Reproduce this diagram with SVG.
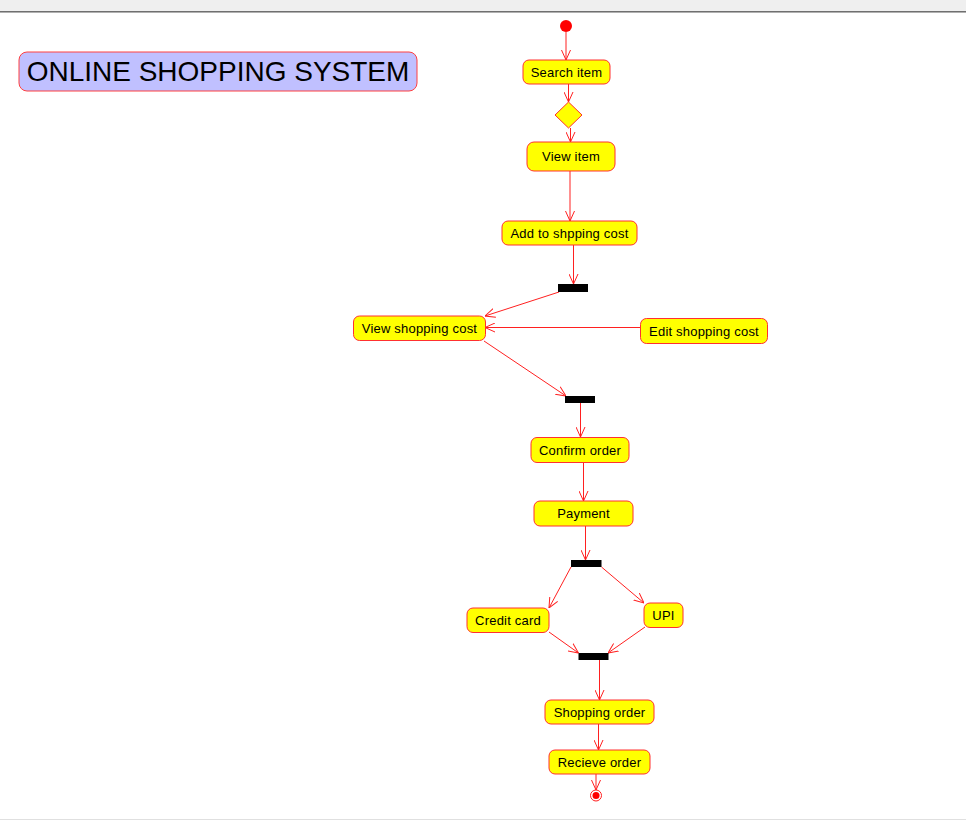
<svg xmlns="http://www.w3.org/2000/svg" width="966" height="820" viewBox="0 0 966 820">
<style>
.n rect{fill:#ffff00;stroke:#ff3030;stroke-width:1}
.n text{font-family:"Liberation Sans",Arial,sans-serif;font-size:13px;fill:#000;text-anchor:middle;letter-spacing:0.2px}
.bar{fill:#000}
.e line{stroke:#ff2020;stroke-width:1;fill:none}
</style>
<defs>
<marker id="ah" viewBox="0 0 10 10" refX="10" refY="5" markerWidth="10" markerHeight="10" markerUnits="userSpaceOnUse" orient="auto">
<path d="M0,0.5 L10,5 L0,9.5" fill="none" stroke="#ff2020" stroke-width="1"/>
</marker>
</defs>
<rect x="0" y="0" width="966" height="820" fill="#ffffff"/>
<rect x="0" y="0" width="966" height="11" fill="#efefef"/>
<line x1="0" y1="11.5" x2="966" y2="11.5" stroke="#6f6f6f" stroke-width="1"/>
<line x1="0" y1="12.5" x2="966" y2="12.5" stroke="#b0b0b0" stroke-width="1"/>
<line x1="0" y1="819.5" x2="966" y2="819.5" stroke="#e0e0e0" stroke-width="1"/>

<g id="title">
<rect x="19" y="52" width="398" height="39" rx="8" fill="#c0c0ff" stroke="#ff4040"/>
<text x="218" y="81" font-family="'Liberation Sans',Arial,sans-serif" font-size="28" text-anchor="middle" fill="#000">ONLINE SHOPPING SYSTEM</text>
</g>

<g class="e" id="connectors">
<line x1="566" y1="32" x2="566" y2="60" marker-end="url(#ah)"/>
<line x1="568.5" y1="84" x2="568.5" y2="102" marker-end="url(#ah)"/>
<line x1="570.5" y1="128" x2="570.5" y2="142" marker-end="url(#ah)"/>
<line x1="570" y1="171" x2="570" y2="221" marker-end="url(#ah)"/>
<line x1="573.5" y1="245" x2="573.5" y2="284" marker-end="url(#ah)"/>
<line x1="559" y1="292" x2="485" y2="316" marker-end="url(#ah)"/>
<line x1="640" y1="327.5" x2="485" y2="327.5" marker-end="url(#ah)"/>
<line x1="484" y1="341" x2="566" y2="396" marker-end="url(#ah)"/>
<line x1="580.5" y1="403" x2="580.5" y2="437" marker-end="url(#ah)"/>
<line x1="583.5" y1="462" x2="583.5" y2="501" marker-end="url(#ah)"/>
<line x1="585.5" y1="526" x2="585.5" y2="560" marker-end="url(#ah)"/>
<line x1="571" y1="567" x2="549" y2="608" marker-end="url(#ah)"/>
<line x1="601.5" y1="567" x2="644" y2="603" marker-end="url(#ah)"/>
<line x1="549" y1="632" x2="578.5" y2="653" marker-end="url(#ah)"/>
<line x1="645" y1="627" x2="608" y2="653" marker-end="url(#ah)"/>
<line x1="599.5" y1="660" x2="599.5" y2="700" marker-end="url(#ah)"/>
<line x1="598.5" y1="724" x2="598.5" y2="750" marker-end="url(#ah)"/>
<line x1="596" y1="774" x2="596" y2="790" marker-end="url(#ah)"/>
</g>

<g id="start"><circle cx="566" cy="26" r="6" fill="#ff0000"/></g>

<g class="n" id="search-item"><rect x="523" y="60" width="87" height="24" rx="6"/><text x="566.5" y="76.5">Search item</text></g>

<g id="decision"><polygon points="568.5,102 582,115 568.5,128 555,115" fill="#ffff00" stroke="#ff3030"/></g>

<g class="n" id="view-item"><rect x="527" y="142" width="88" height="29" rx="7"/><text x="571" y="161">View item</text></g>

<g class="n" id="add-to-cost"><rect x="502" y="221" width="135" height="24" rx="6"/><text x="569.5" y="237.5">Add to shpping cost</text></g>

<g id="fork1"><rect class="bar" x="558" y="284" width="30" height="8"/></g>

<g class="n" id="view-cost"><rect x="353.5" y="316" width="132" height="24.5" rx="6"/><text x="419.5" y="332.5">View shopping cost</text></g>

<g class="n" id="edit-cost"><rect x="640.5" y="318.5" width="127" height="25" rx="6"/><text x="704" y="335.5">Edit shopping cost</text></g>

<g id="fork2"><rect class="bar" x="565" y="396" width="30" height="7"/></g>

<g class="n" id="confirm-order"><rect x="531" y="437.5" width="98" height="25" rx="6"/><text x="580" y="454.5">Confirm order</text></g>

<g class="n" id="payment"><rect x="534" y="501" width="99" height="25" rx="6"/><text x="583.5" y="518">Payment</text></g>

<g id="fork3"><rect class="bar" x="571" y="560" width="30.5" height="7"/></g>

<g class="n" id="credit-card"><rect x="467" y="608" width="82" height="24.5" rx="6"/><text x="508" y="624.5">Credit card</text></g>

<g class="n" id="upi"><rect x="644" y="603" width="39" height="24.5" rx="6"/><text x="663.5" y="620" letter-spacing="1">UPI</text></g>

<g id="fork4"><rect class="bar" x="578.5" y="653" width="30" height="7"/></g>

<g class="n" id="shopping-order"><rect x="545" y="700" width="109" height="24" rx="6"/><text x="599.5" y="716.5">Shopping order</text></g>

<g class="n" id="recieve-order"><rect x="549" y="750" width="101" height="24" rx="6"/><text x="599.5" y="766.5">Recieve order</text></g>

<g id="end"><circle cx="596" cy="795.5" r="5.5" fill="#fff" stroke="#ff2020" stroke-width="1"/><circle cx="596" cy="795.5" r="3.5" fill="#ff0000"/></g>
</svg>
